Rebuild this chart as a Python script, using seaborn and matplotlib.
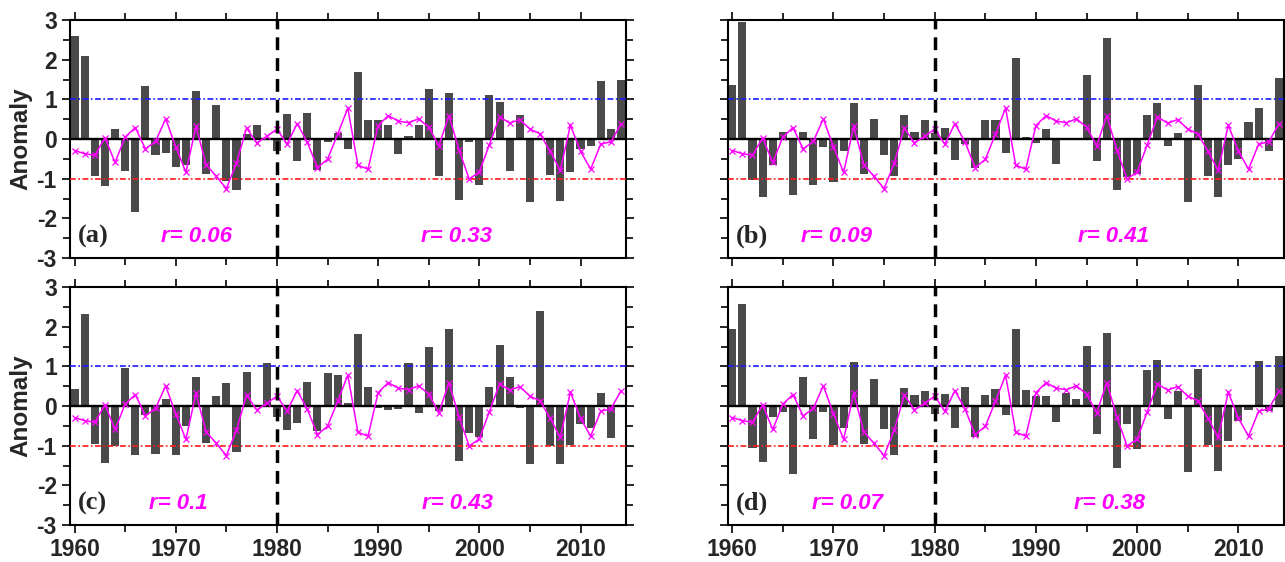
import pandas as pd
import seaborn as sns
import matplotlib.pyplot as plt
from matplotlib.ticker import MultipleLocator

years = list(range(1960, 2015))

# station-group anomalies, one list per panel
bars_a = [2.59, 2.10, -0.94, -1.18, 0.26, -0.80, -1.85, 1.33, -0.41, -0.35,
          -0.70, -0.65, 1.20, -0.89, 0.86, -1.07, -1.28, 0.13, 0.36, 0.02,
          -0.29, 0.63, -0.55, 0.65, -0.77, -0.08, 0.14, -0.25, 1.68, 0.47,
          0.49, 0.35, -0.37, 0.08, 0.36, 1.25, -0.92, 1.17, -1.53, -0.08,
          -1.17, 1.10, 0.93, -0.80, 0.61, -1.58, -0.02, -0.91, -1.57, -0.82,
          -0.24, -0.18, 1.47, 0.24, 1.50]
bars_b = [1.37, 2.95, -1.03, -1.46, -0.65, 0.17, -1.41, 0.18, -1.15, -0.20,
          -1.08, -0.29, 0.91, -0.88, 0.51, -0.41, -0.93, 0.61, 0.18, 0.49,
          0.15, 0.29, -0.52, -0.13, -0.72, 0.48, 0.49, -0.35, 2.05, 0.05,
          -0.10, 0.26, -0.63, 0.03, 0.03, 1.62, -0.56, 2.54, -1.29, -0.95,
          -0.88, 0.60, 0.91, -0.17, 0.15, -1.58, 1.35, -0.94, -1.46, -0.66,
          -0.50, 0.43, 0.77, -0.30, 1.54]
bars_c = [0.42, 2.33, -0.97, -1.43, -1.00, 0.97, -1.24, -0.23, -1.20, 0.18,
          -1.23, -0.50, 0.72, -0.92, 0.26, 0.57, -1.17, 0.86, 0.03, 1.08,
          -0.27, -0.61, -0.42, 0.61, -0.63, 0.83, 0.77, 0.07, 1.82, 0.47,
          -0.04, -0.11, -0.08, 1.08, -0.18, 1.50, -0.12, 1.95, -1.39, -0.69,
          -0.78, 0.47, 1.55, 0.72, -0.04, -1.45, 2.39, -1.00, -1.46, -0.98,
          -0.45, -0.55, 0.32, -0.80, 0.00]
bars_d = [1.95, 2.57, -1.07, -1.42, -0.27, -0.16, -1.72, 0.74, -0.84, -0.15,
          -0.98, -0.55, 1.11, -0.97, 0.69, -0.58, -1.24, 0.45, 0.27, 0.39,
          -0.20, 0.30, -0.55, 0.48, -0.77, 0.29, 0.42, -0.22, 1.95, 0.40,
          0.24, 0.24, -0.40, 0.32, 0.18, 1.51, -0.70, 1.84, -1.55, -0.45,
          -1.08, 0.91, 1.16, -0.32, 0.38, -1.67, 0.93, -0.99, -1.63, -0.88,
          -0.39, -0.10, 1.13, -0.13, 1.27]

# index series (magenta), same in every panel
index_line = [-0.29, -0.37, -0.41, 0.03, -0.59, 0.05, 0.29, -0.25, -0.06, 0.51,
              -0.20, -0.84, 0.32, -0.65, -0.94, -1.25, -0.61, 0.28, -0.10, 0.07,
              0.25, -0.13, 0.39, -0.08, -0.72, -0.51, 0.12, 0.78, -0.66, -0.76,
              0.34, 0.59, 0.45, 0.41, 0.51, 0.30, -0.17, 0.59, -0.28, -1.01,
              -0.83, -0.14, 0.56, 0.40, 0.49, 0.25, 0.13, -0.31, -0.79, 0.35,
              -0.31, -0.76, -0.13, -0.07, 0.38]

panel_labels = ["(a)", "(b)", "(c)", "(d)"]
r_early = ["r= 0.06", "r= 0.09", "r= 0.1", "r= 0.07"]
r_late = ["r= 0.33", "r= 0.41", "r= 0.43", "r= 0.38"]

sns.set_style("ticks")
plt.rcParams["font.family"] = ["Liberation Sans", "DejaVu Sans"]
plt.rcParams["axes.unicode_minus"] = False

fig = plt.figure(figsize=(12.85, 5.62), dpi=100)
rects = [
    [0.0545, 0.5409, 0.4327, 0.4235],
    [0.5663, 0.5409, 0.4329, 0.4235],
    [0.0545, 0.0658, 0.4327, 0.4235],
    [0.5663, 0.0658, 0.4329, 0.4235],
]
r_early_x = [1972.0, 1970.3, 1970.3, 1971.4]
r_late_x = [1997.7, 1997.7, 1997.8, 1997.3]

for i, bars in enumerate([bars_a, bars_b, bars_c, bars_d]):
    ax = fig.add_axes(rects[i])
    df = pd.DataFrame({"year": years, "anomaly": bars, "index": index_line})
    sns.barplot(data=df, x="year", y="anomaly", native_scale=True, width=0.8,
                color="#4a4a4a", saturation=1, errorbar=None, linewidth=0,
                ax=ax, zorder=2)
    ax.axhline(1, color="#1a1aff", ls=(0, (3.5, 1.5, 1, 1.5)), lw=1.2, zorder=3)
    ax.axhline(-1, color="#ff1a1a", ls=(0, (3.5, 1.5, 1, 1.5)), lw=1.2, zorder=3)
    ax.axhline(0, color="black", lw=1.7, zorder=3)
    sns.lineplot(data=df, x="year", y="index", color="#ff00ff", lw=1.1,
                 marker="x", markersize=4, mew=0.9, mec="#ff00ff", ax=ax,
                 zorder=4)
    ax.axvline(1980, color="black", ls=(0, (3.7, 2.3)), lw=2.5, zorder=5)

    ax.set_xlim(1959.55, 2014.5)
    ax.set_ylim(-3, 3)
    ax.xaxis.set_major_locator(MultipleLocator(10))
    ax.xaxis.set_minor_locator(MultipleLocator(5))
    ax.yaxis.set_major_locator(MultipleLocator(1))
    ax.yaxis.set_minor_locator(MultipleLocator(0.5))
    ax.tick_params(which="both", direction="out", top=True, right=True,
                   width=1.4, labelsize=16.5)
    ax.tick_params(which="major", length=6)
    ax.tick_params(which="minor", length=5)
    for lab in ax.get_xticklabels() + ax.get_yticklabels():
        lab.set_fontweight("bold")
    for sp in ax.spines.values():
        sp.set_linewidth(1.5)
        sp.set_color("black")

    ax.set_xlabel("")
    if i % 2 == 0:
        ax.set_ylabel("Anomaly", fontsize=17.5, fontweight="bold", labelpad=3)
    else:
        ax.set_ylabel("")
        ax.tick_params(labelleft=False)
    if i < 2:
        ax.tick_params(labelbottom=False)

    ax.text(0.015, 0.09, panel_labels[i], transform=ax.transAxes,
            fontsize=19, fontweight="bold", family="Liberation Serif",
            va="center", ha="left")
    ax.text(r_early_x[i], -2.45, r_early[i], color="#ff00ff", fontsize=16,
            fontweight="bold", style="italic", ha="center", va="center")
    ax.text(r_late_x[i], -2.45, r_late[i], color="#ff00ff", fontsize=16,
            fontweight="bold", style="italic", ha="center", va="center")

plt.savefig("out.png", dpi=100)
